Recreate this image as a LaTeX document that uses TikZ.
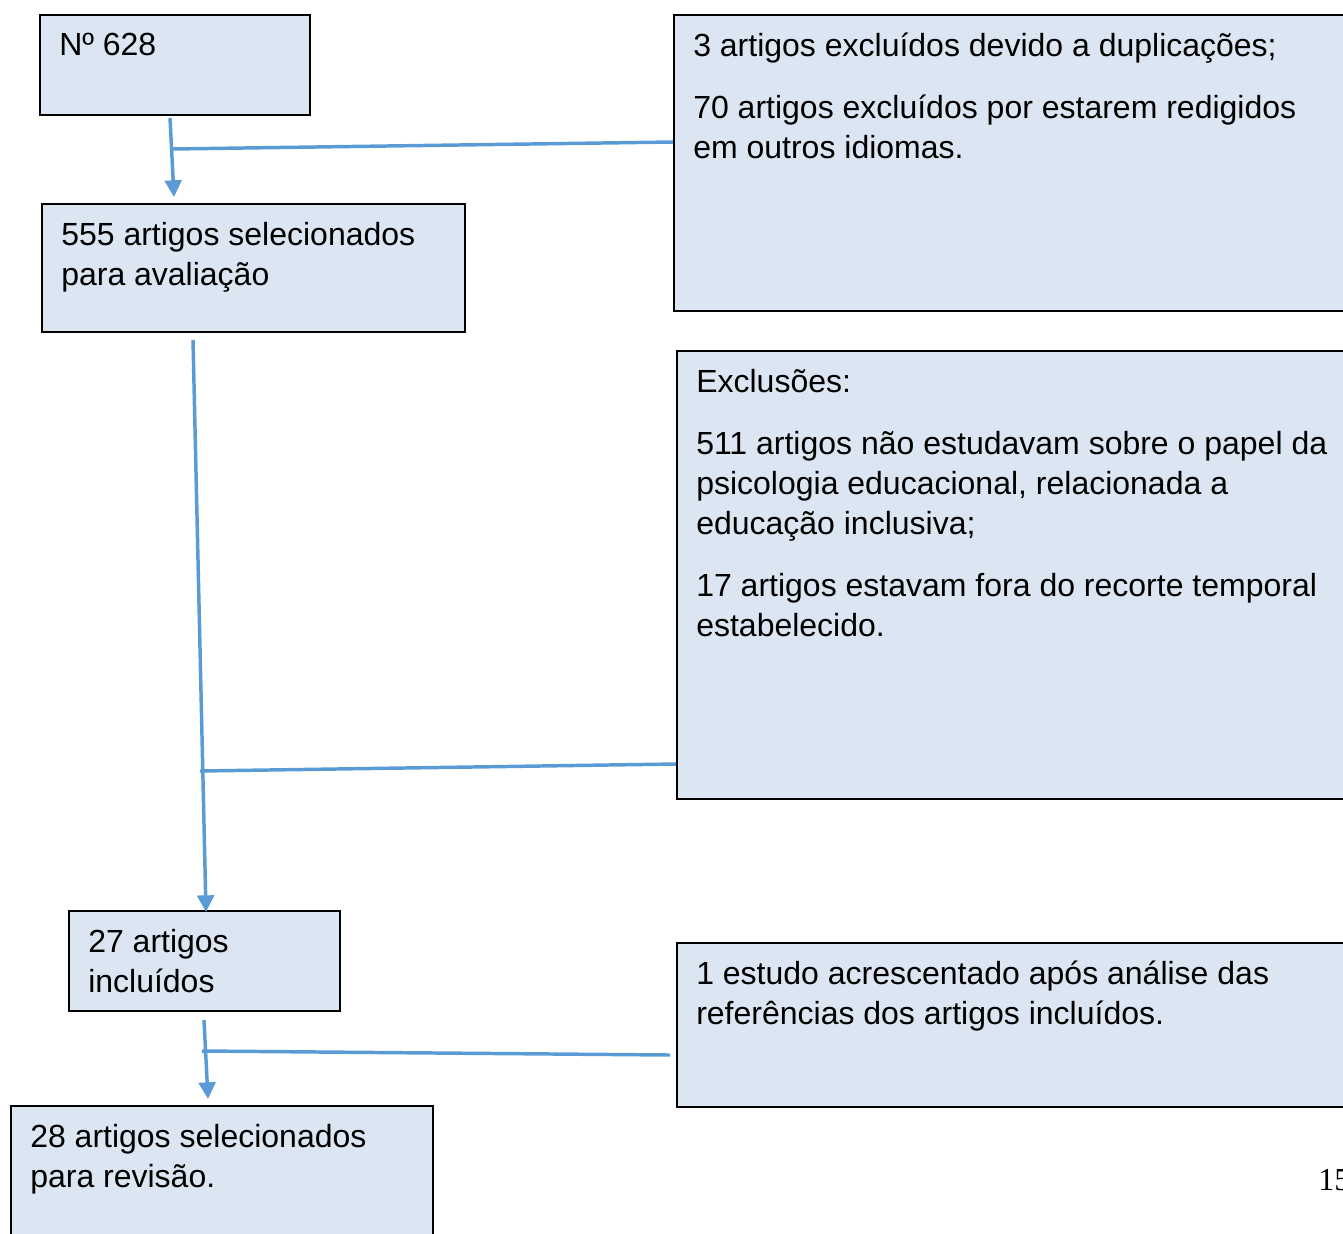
\documentclass[tikz,border=0pt]{standalone}
\usepackage{fontspec}
\setmainfont{Liberation Sans}
\newfontfamily\serifnum{Liberation Serif}
\usetikzlibrary{arrows.meta}
\definecolor{boxfill}{HTML}{DCE6F2}
\definecolor{linkblue}{HTML}{5B9BD5}
\def\pxu{*0.75pt}
\begin{document}
\begin{tikzpicture}[x=0.75pt,y=-0.75pt,
  box/.style={draw=black, line width=1.3pt, fill=boxfill, anchor=north west, inner sep=0pt},
  txt/.style={anchor=north west, inner xsep=15pt, inner ysep=14pt, align=left,
    font=\fontsize{24}{30}\selectfont, execute at begin node=\strut},
  link/.style={draw=linkblue, line width=2.6pt},
  arr/.style={link, -{Triangle[width=12.5pt,length=12.5pt]}}
]
\useasboundingbox (0,0) rectangle (1343,1233);
\clip (0,0) rectangle (1343,1233);

\node[box, minimum width=270\pxu, minimum height=100\pxu,
  label={[txt, inner ysep=10pt]north west:{Nº 628}}] (n628) at (39,14) {};
\node[box, minimum width=423\pxu, minimum height=128\pxu,
  label={[txt]north west:{555 artigos selecionados\\para avaliação}}] (n555) at (41,203) {};
\node[box, minimum width=700\pxu, minimum height=296\pxu,
  label={[txt]north west:{3 artigos excluídos devido a duplicações;\\[16.5pt]70 artigos excluídos por estarem redigidos\\em outros idiomas.}}] (exc1) at (673,14) {};
\node[box, minimum width=700\pxu, minimum height=448\pxu,
  label={[txt]north west:{Exclusões:\\[16.5pt]511 artigos não estudavam sobre o papel da\\psicologia educacional, relacionada a\\educação inclusiva;\\[16.5pt]17 artigos estavam fora do recorte temporal\\estabelecido.}}] (exc2) at (676,350) {};
\node[box, minimum width=271\pxu, minimum height=100\pxu,
  label={[txt]north west:{27 artigos\\incluídos}}] (n27) at (68,910) {};
\node[box, minimum width=700\pxu, minimum height=164\pxu,
  label={[txt]north west:{1 estudo acrescentado após análise das\\referências dos artigos incluídos.}}] (add1) at (676,942) {};
\node[box, minimum width=422\pxu, minimum height=150\pxu,
  label={[txt]north west:{28 artigos selecionados\\para revisão.}}] (n28) at (10,1105) {};

\node[font=\serifnum\fontsize{24}{30}\selectfont, anchor=base west, inner sep=0pt] (pg) at (1318,1190) {15};

% connectors
\coordinate (a1s) at (170,118);
\coordinate (a1e) at (174,197);
\coordinate (b1l) at (172,149);
\coordinate (b1r) at (673,142);
\coordinate (a2s) at (193,340);
\coordinate (a2e) at (206,912);
\coordinate (b2l) at (200,771);
\coordinate (b2r) at (676,764);
\coordinate (a3s) at (204,1020);
\coordinate (a3e) at (208,1099);
\coordinate (b3l) at (202,1051);
\coordinate (b3r) at (670,1055);

\draw[arr] (a1s) -- (a1e);
\draw[link] (b1l) -- (b1r);
\draw[arr] (a2s) -- (a2e);
\draw[link] (b2l) -- (b2r);
\draw[arr] (a3s) -- (a3e);
\draw[link] (b3l) -- (b3r);
\end{tikzpicture}
\end{document}
